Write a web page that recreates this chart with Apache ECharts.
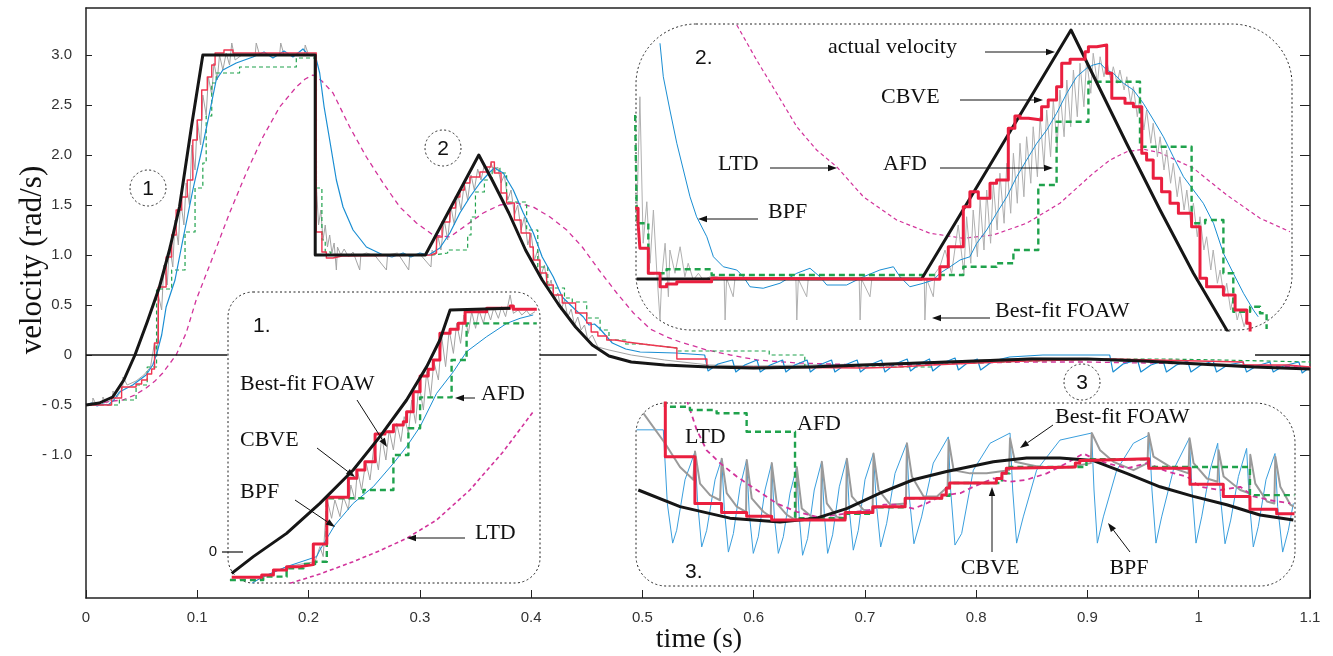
<!DOCTYPE html>
<html>
<head>
<meta charset="utf-8">
<script src="https://cdn.jsdelivr.net/npm/echarts@6/dist/echarts.min.js"></script>
<style>
html, body { margin: 0; padding: 0; background: #fff; }
#chart { width: 1333px; height: 656px; }
</style>
</head>
<body>
<div id="chart"></div>
<script>
// ---- main plot: time (s) / velocity (rad/s) ----
var yTicks = [-1, -0.5, 0, 0.5, 1, 1.5, 2, 2.5, 3];
var yTickText = { '3': '3.0', '2.5': '2.5', '2': '2.0', '1.5': '1.5', '1': '1.0', '0.5': '0.5', '0': '0', '-0.5': '- 0.5', '-1': '- 1.0' };
var zeroSegments = [[0, 0.127], [0.4077, 0.459], [1.0506, 1.1]];

var actualMain = [[0,-0.5],[0.012,-0.48],[0.024,-0.42],[0.034,-0.25],[0.044,0],[0.055,0.33],[0.066,0.68],[0.075,1.05],[0.084,1.48],[0.095,2.3],[0.105,3.0],[0.206,3.0],[0.206,1.0],[0.305,1.0],[0.353,2.0],[0.365,1.75],[0.38,1.42],[0.395,1.05],[0.41,0.75],[0.425,0.5],[0.44,0.28],[0.455,0.1],[0.47,-0.01],[0.49,-0.07],[0.52,-0.1],[0.56,-0.12],[0.6,-0.13],[0.65,-0.12],[0.7,-0.1],[0.75,-0.08],[0.8,-0.06],[0.85,-0.04],[0.9,-0.04],[0.95,-0.06],[1.0,-0.09],[1.05,-0.12],[1.1,-0.14]];

var cbveMain = [[0,-0.5],[0.023,-0.43],[0.032,-0.32],[0.045,-0.29],[0.05,-0.25],[0.055,-0.19],[0.059,-0.14],[0.0616,0.12],[0.065,0.68],[0.072,0.98],[0.077,1.2],[0.081,1.45],[0.086,1.58],[0.091,1.75],[0.096,2.15],[0.1,2.35],[0.104,2.65],[0.109,2.78],[0.113,2.9],[0.116,3.02],[0.124,3.05],[0.132,3.02],[0.207,1.23],[0.212,1.03],[0.216,0.97],[0.222,0.99],[0.23,1.0],[0.31,1.02],[0.315,1.18],[0.32,1.33],[0.327,1.47],[0.332,1.58],[0.336,1.65],[0.34,1.72],[0.345,1.78],[0.354,1.83],[0.36,1.88],[0.364,1.93],[0.367,1.82],[0.373,1.62],[0.378,1.52],[0.385,1.35],[0.391,1.22],[0.399,1.08],[0.402,0.95],[0.408,0.82],[0.414,0.7],[0.42,0.6],[0.428,0.52],[0.44,0.42],[0.45,0.32],[0.454,0.23],[0.46,0.19],[0.468,0.15],[0.476,0.13],[0.486,0.11],[0.5,0.09],[0.515,0.07],[0.531,-0.04],[0.558,-0.12],[0.58,-0.13],[0.7,-0.12],[0.73,-0.1],[0.76,-0.08],[0.8,-0.06],[0.845,-0.04],[0.92,-0.05],[0.96,-0.06],[1.0,-0.07],[1.04,-0.1],[1.08,-0.12],[1.1,-0.13]];

var afdMain = [[0,-0.5],[0.03,-0.45],[0.045,-0.3],[0.055,-0.12],[0.0634,0.66],[0.077,0.85],[0.089,1.23],[0.098,1.67],[0.105,1.92],[0.108,2.39],[0.113,2.72],[0.117,2.82],[0.138,2.88],[0.189,2.97],[0.207,1.67],[0.212,1.15],[0.215,1.03],[0.22,1.0],[0.312,1.02],[0.325,1.05],[0.343,1.2],[0.346,1.38],[0.35,1.63],[0.358,1.75],[0.365,1.87],[0.372,1.82],[0.378,1.53],[0.396,1.25],[0.406,0.88],[0.415,0.67],[0.43,0.57],[0.437,0.53],[0.45,0.37],[0.462,0.25],[0.47,0.15],[0.485,0.11],[0.5,0.09],[0.515,0.07],[0.531,0.04],[0.614,0.0],[0.646,-0.12],[0.7,-0.12],[0.76,-0.08],[0.8,-0.06],[0.85,-0.04],[0.92,-0.04],[0.97,-0.05],[1.02,-0.06],[1.06,-0.07],[1.1,-0.08]];

var bpfMain = [[0,-0.5],[0.005,-0.48],[0.01,-0.51],[0.015,-0.49],[0.02,-0.5],[0.025,-0.45],[0.03,-0.37],[0.042,-0.3],[0.054,-0.2],[0.06,-0.1],[0.064,0.03],[0.068,0.2],[0.072,0.48],[0.08,0.75],[0.087,1.15],[0.096,1.65],[0.104,2.05],[0.111,2.42],[0.117,2.75],[0.123,2.85],[0.135,2.92],[0.15,2.98],[0.16,3.03],[0.168,2.97],[0.178,3.04],[0.186,2.98],[0.195,3.06],[0.2,3.0],[0.206,3.0],[0.21,2.82],[0.214,2.48],[0.219,2.15],[0.225,1.75],[0.231,1.48],[0.24,1.25],[0.252,1.08],[0.267,1.0],[0.275,0.98],[0.285,1.02],[0.292,0.98],[0.3,1.02],[0.308,1.0],[0.318,1.07],[0.327,1.22],[0.336,1.42],[0.345,1.58],[0.354,1.72],[0.363,1.83],[0.367,1.87],[0.375,1.82],[0.384,1.65],[0.393,1.42],[0.402,1.22],[0.41,0.98],[0.42,0.78],[0.428,0.58],[0.44,0.45],[0.447,0.38],[0.452,0.3],[0.457,0.31],[0.462,0.26],[0.473,0.12],[0.485,0.06],[0.498,0.03],[0.53,0.02],[0.556,0.0],[0.559,-0.16],[0.568,-0.09],[0.581,-0.05],[0.584,-0.17],[0.592,-0.1],[0.603,-0.05],[0.606,-0.17],[0.615,-0.1],[0.626,-0.05],[0.629,-0.17],[0.637,-0.1],[0.648,-0.05],[0.651,-0.17],[0.659,-0.1],[0.67,-0.05],[0.673,-0.17],[0.682,-0.1],[0.693,-0.05],[0.696,-0.17],[0.704,-0.1],[0.715,-0.05],[0.718,-0.17],[0.727,-0.09],[0.738,-0.04],[0.741,-0.16],[0.749,-0.09],[0.758,-0.04],[0.761,-0.16],[0.77,-0.08],[0.781,-0.03],[0.784,-0.15],[0.792,-0.08],[0.801,-0.04],[0.804,-0.15],[0.815,-0.06],[0.83,-0.02],[0.86,0.0],[0.9,0.0],[0.92,0.0],[0.923,-0.17],[0.932,-0.09],[0.945,-0.05],[0.948,-0.17],[0.957,-0.1],[0.968,-0.06],[0.971,-0.17],[0.98,-0.1],[0.99,-0.06],[0.993,-0.17],[1.002,-0.1],[1.013,-0.06],[1.016,-0.17],[1.026,-0.1],[1.04,-0.07],[1.043,-0.17],[1.052,-0.11],[1.064,-0.07],[1.067,-0.17],[1.076,-0.11],[1.09,-0.07],[1.093,-0.18],[1.1,-0.12]];

var ltdMain = [[0,-0.5],[0.012,-0.48],[0.024,-0.46],[0.033,-0.45],[0.044,-0.4],[0.054,-0.33],[0.062,-0.26],[0.069,-0.18],[0.075,-0.09],[0.081,0.0],[0.09,0.22],[0.099,0.55],[0.114,0.98],[0.129,1.42],[0.144,1.82],[0.159,2.18],[0.174,2.48],[0.189,2.68],[0.197,2.76],[0.204,2.8],[0.212,2.74],[0.222,2.62],[0.237,2.28],[0.252,1.98],[0.267,1.72],[0.282,1.48],[0.297,1.32],[0.312,1.2],[0.327,1.18],[0.342,1.3],[0.357,1.42],[0.372,1.5],[0.387,1.52],[0.402,1.48],[0.417,1.38],[0.432,1.25],[0.446,1.08],[0.461,0.85],[0.477,0.62],[0.492,0.42],[0.507,0.26],[0.522,0.18],[0.534,0.13],[0.558,0.05],[0.579,0.0],[0.603,-0.05],[0.639,-0.08],[0.7,-0.1],[0.75,-0.1],[0.8,-0.08],[0.85,-0.07],[0.9,-0.07],[0.95,-0.08],[1.0,-0.09],[1.05,-0.11],[1.1,-0.12]];

var foawMain = [[0,-0.5],[0.006,-0.5],[0.0062,-0.43],[0.009,-0.49],[0.015,-0.5],[0.0152,-0.42],[0.018,-0.48],[0.024,-0.44],[0.0242,-0.36],[0.028,-0.42],[0.033,-0.33],[0.0332,-0.22],[0.037,-0.3],[0.045,-0.26],[0.052,-0.2],[0.058,-0.12],[0.0615,0.12],[0.064,0.0],[0.065,0.6],[0.068,0.45],[0.07,0.9],[0.073,0.7],[0.075,1.1],[0.078,0.88],[0.08,1.35],[0.083,1.1],[0.085,1.55],[0.088,1.3],[0.09,1.72],[0.093,1.5],[0.095,2.1],[0.098,1.85],[0.1,2.35],[0.103,2.1],[0.105,2.6],[0.108,2.4],[0.11,2.78],[0.113,2.6],[0.115,2.92],[0.118,2.75],[0.12,3.0],[0.123,2.85],[0.126,3.02],[0.129,2.9],[0.131,3.12],[0.134,2.95],[0.14,3.0],[0.152,3.0],[0.153,3.12],[0.156,3.0],[0.174,3.0],[0.175,3.12],[0.178,3.0],[0.196,3.0],[0.197,3.1],[0.2,3.0],[0.206,3.0],[0.207,1.7],[0.209,1.3],[0.211,1.45],[0.213,1.15],[0.215,1.3],[0.217,1.08],[0.219,1.2],[0.221,1.02],[0.223,1.12],[0.225,0.85],[0.226,1.08],[0.229,1.0],[0.232,1.06],[0.236,0.98],[0.24,1.03],[0.246,0.85],[0.247,1.0],[0.252,1.02],[0.26,0.99],[0.27,0.85],[0.271,1.0],[0.28,1.02],[0.29,0.85],[0.291,1.0],[0.3,1.01],[0.31,0.88],[0.311,1.05],[0.314,1.0],[0.316,1.2],[0.319,1.05],[0.322,1.35],[0.325,1.15],[0.328,1.48],[0.331,1.3],[0.334,1.62],[0.337,1.45],[0.34,1.72],[0.343,1.55],[0.346,1.8],[0.349,1.65],[0.352,1.86],[0.355,1.75],[0.358,1.9],[0.361,1.8],[0.364,1.92],[0.367,1.82],[0.37,1.88],[0.373,1.72],[0.376,1.8],[0.379,1.55],[0.382,1.65],[0.385,1.4],[0.388,1.5],[0.391,1.25],[0.394,1.38],[0.397,1.1],[0.4,1.22],[0.403,0.95],[0.406,1.05],[0.409,0.8],[0.412,0.9],[0.415,0.65],[0.418,0.75],[0.421,0.55],[0.424,0.62],[0.427,0.45],[0.43,0.55],[0.433,0.38],[0.436,0.46],[0.439,0.3],[0.442,0.38],[0.445,0.25],[0.448,0.3],[0.451,0.15],[0.455,0.2],[0.46,0.08],[0.47,0.05],[0.49,0.0],[0.52,-0.05],[0.56,-0.1],[0.6,-0.11],[0.65,-0.1],[0.7,-0.09],[0.75,-0.07],[0.8,-0.05],[0.85,-0.03],[0.9,-0.04],[0.95,-0.06],[1.0,-0.08],[1.05,-0.1],[1.1,-0.12]];

// ---- inset 1 (zoom of region 1) ----
var actualIn1 = [[0.0339,-0.267],[0.0411,-0.058],[0.0522,0.233],[0.0633,0.608],[0.0744,1.025],[0.0833,1.442],[0.0922,1.9],[0.0989,2.317],[0.1033,2.65],[0.1067,3.025],[0.1267,3.046]];
var cbveIn1 = [[0.0339,-0.317],[0.0439,-0.288],[0.0478,-0.225],[0.0522,-0.183],[0.0567,-0.158],[0.0611,0.1],[0.0656,0.683],[0.0728,0.921],[0.0756,1.025],[0.0783,1.129],[0.0817,1.475],[0.085,1.504],[0.0878,1.588],[0.0911,1.629],[0.0922,1.754],[0.0944,2.004],[0.0967,2.2],[0.0994,2.283],[0.1011,2.4],[0.1033,2.733],[0.1067,2.783],[0.1094,2.858],[0.1117,3.004],[0.1189,3.046],[0.1267,3.075],[0.1278,3.033],[0.1356,3.033]];
var afdIn1 = [[0.0333,-0.35],[0.0444,-0.308],[0.0522,-0.204],[0.0578,-0.15],[0.0617,-0.121],[0.0656,0.671],[0.0778,0.775],[0.0878,1.213],[0.0928,1.546],[0.0967,1.933],[0.1072,2.4],[0.1122,2.858],[0.1356,2.858]];
var bpfIn1 = [[0.0406,-0.392],[0.0444,-0.308],[0.0522,-0.183],[0.0622,-0.058],[0.0633,0.025],[0.0683,0.338],[0.0744,0.608],[0.0811,0.817],[0.0878,1.108],[0.0922,1.317],[0.0967,1.567],[0.1022,1.983],[0.1078,2.254],[0.1122,2.504],[0.1189,2.692],[0.1256,2.858],[0.13,2.921],[0.1344,2.963]];
var ltdIn1 = [[0.0533,-0.392],[0.0633,-0.275],[0.0744,-0.121],[0.0833,0.017],[0.0922,0.171],[0.1022,0.4],[0.1133,0.775],[0.1244,1.254],[0.1344,1.754]];
var foawIn1 = [[0.0411,-0.371],[0.0522,-0.183],[0.0617,-0.121],[0.0633,0.067],[0.0644,-0.058],[0.0656,0.671],[0.0672,0.421],[0.0683,0.65],[0.07,0.442],[0.0711,0.692],[0.0728,0.525],[0.0736,0.838],[0.075,0.65],[0.0758,1.025],[0.0772,0.775],[0.0786,1.129],[0.08,0.9],[0.0813,1.317],[0.0828,1.025],[0.0839,1.442],[0.0853,1.15],[0.0864,1.525],[0.0878,1.275],[0.0889,1.608],[0.0903,1.379],[0.0914,1.692],[0.0928,1.483],[0.0939,1.9],[0.0952,1.608],[0.0963,2.108],[0.0978,1.775],[0.0989,2.254],[0.1002,1.942],[0.1013,2.379],[0.1028,2.15],[0.1039,2.692],[0.1052,2.317],[0.1064,2.775],[0.1078,2.483],[0.1089,2.858],[0.1102,2.608],[0.1113,2.963],[0.1128,2.733],[0.1139,3.004],[0.1152,2.796],[0.1163,3.025],[0.1178,2.858],[0.1189,3.046],[0.1202,2.9],[0.1213,3.058],[0.1228,2.921],[0.1239,3.067],[0.1252,2.942],[0.1267,3.213],[0.1278,2.983],[0.1294,3.025],[0.1306,2.963],[0.1322,3.017],[0.1333,2.963],[0.135,3.004]];

// ---- inset 2 (zoom of region 2) ----
var actualIn2 = [[0.21,1.0],[0.305,1.0],[0.3548,1.996],[0.3733,1.543],[0.3845,1.276],[0.3956,1.023],[0.4067,0.796],[0.412,0.72]];
var cbveIn2 = [[0.2095,1.283],[0.2105,1.223],[0.2111,1.123],[0.2139,1.023],[0.2178,0.969],[0.22,0.98],[0.2234,0.989],[0.235,1.003],[0.2367,0.999],[0.3111,1.049],[0.3139,1.129],[0.3189,1.289],[0.3211,1.349],[0.3239,1.323],[0.3278,1.383],[0.33,1.396],[0.3339,1.603],[0.3361,1.652],[0.3378,1.643],[0.3406,1.636],[0.345,1.689],[0.3472,1.716],[0.35,1.769],[0.3517,1.863],[0.3545,1.879],[0.3595,1.909],[0.3606,1.929],[0.3634,1.936],[0.3667,1.823],[0.3684,1.723],[0.3728,1.703],[0.3756,1.689],[0.3784,1.503],[0.38,1.476],[0.3822,1.403],[0.385,1.349],[0.3878,1.303],[0.3906,1.263],[0.395,1.209],[0.3978,1.003],[0.4,0.969],[0.4056,0.936],[0.4095,0.876],[0.4134,0.823],[0.4145,0.78]];
var afdIn2 = [[0.2095,1.656],[0.2101,1.223],[0.2139,1.023],[0.22,1.039],[0.235,1.016],[0.3189,1.049],[0.33,1.063],[0.3356,1.116],[0.3439,1.376],[0.35,1.629],[0.3606,1.789],[0.3778,1.529],[0.395,1.223],[0.3995,1.236],[0.4056,1.023],[0.4089,0.869],[0.4145,0.889],[0.4178,0.863],[0.42,0.8]];
var bpfIn2 = [[0.2178,1.943],[0.2189,1.809],[0.2211,1.676],[0.2234,1.543],[0.2256,1.436],[0.2278,1.329],[0.23,1.249],[0.2334,1.169],[0.2356,1.089],[0.2389,1.049],[0.2434,1.036],[0.2456,1.009],[0.2478,0.969],[0.2522,0.963],[0.2578,0.983],[0.2634,1.023],[0.2678,1.043],[0.2711,1.009],[0.2734,0.976],[0.28,0.976],[0.2856,1.009],[0.2911,1.036],[0.2956,1.049],[0.2978,1.009],[0.3011,0.969],[0.3056,0.983],[0.3089,0.996],[0.3111,1.023],[0.3145,1.049],[0.3178,1.076],[0.3211,1.089],[0.3234,1.143],[0.3267,1.196],[0.33,1.263],[0.3334,1.329],[0.3367,1.409],[0.34,1.476],[0.3434,1.543],[0.3467,1.596],[0.35,1.663],[0.3534,1.743],[0.3567,1.809],[0.36,1.843],[0.3622,1.856],[0.3645,1.863],[0.3667,1.836],[0.3689,1.823],[0.3723,1.783],[0.3756,1.756],[0.3789,1.703],[0.3823,1.636],[0.3856,1.569],[0.3889,1.489],[0.3923,1.409],[0.3956,1.356],[0.3989,1.303],[0.4023,1.223],[0.4056,1.103],[0.4089,1.023],[0.4123,0.943],[0.4156,0.876],[0.4172,0.849]];
var ltdIn2 = [[0.2434,2.016],[0.25,1.876],[0.2567,1.743],[0.2634,1.609],[0.27,1.516],[0.2767,1.449],[0.2856,1.329],[0.2967,1.236],[0.3078,1.183],[0.3189,1.163],[0.3289,1.176],[0.34,1.223],[0.3511,1.303],[0.3622,1.423],[0.3678,1.476],[0.3734,1.509],[0.3789,1.519],[0.3845,1.505],[0.3956,1.443],[0.4067,1.336],[0.4178,1.243],[0.4278,1.189]];
var foawIn2 = [[0.21,1.223],[0.2111,1.729],[0.2122,1.143],[0.2134,1.309],[0.2145,1.063],[0.2156,1.276],[0.2167,1.036],[0.2178,0.836],[0.2184,1.009],[0.2195,1.143],[0.2206,0.929],[0.2211,1.116],[0.2228,1.023],[0.2245,1.129],[0.2261,1.009],[0.2272,1.063],[0.2289,0.996],[0.2306,1.023],[0.2322,0.996],[0.2345,1.009],[0.2367,1.009],[0.2392,0.999],[0.2395,0.836],[0.24,1.003],[0.2422,0.929],[0.2428,1.003],[0.2631,0.999],[0.2634,0.836],[0.2639,0.999],[0.2667,0.929],[0.2672,0.999],[0.2842,0.999],[0.2845,0.836],[0.285,0.999],[0.2878,0.929],[0.2884,0.999],[0.3059,0.999],[0.3061,0.836],[0.3067,0.999],[0.3089,0.929],[0.3095,1.023],[0.3111,1.049],[0.3128,1.116],[0.315,1.023],[0.3172,1.216],[0.3191,1.023],[0.32,1.249],[0.3214,1.063],[0.3222,1.276],[0.3236,1.089],[0.3245,1.316],[0.3258,1.116],[0.3267,1.356],[0.328,1.143],[0.3289,1.383],[0.3302,1.196],[0.3311,1.423],[0.3325,1.223],[0.3334,1.463],[0.3347,1.263],[0.3356,1.503],[0.3369,1.303],[0.3378,1.543],[0.3391,1.329],[0.34,1.569],[0.3414,1.383],[0.3422,1.609],[0.3436,1.409],[0.3445,1.649],[0.3458,1.449],[0.3467,1.676],[0.348,1.489],[0.3489,1.716],[0.3502,1.529],[0.3511,1.756],[0.3525,1.569],[0.3534,1.796],[0.3547,1.609],[0.3556,1.836],[0.3569,1.649],[0.3578,1.863],[0.3591,1.689],[0.36,1.876],[0.3614,1.743],[0.3622,1.903],[0.3636,1.783],[0.3645,1.889],[0.3658,1.809],[0.3667,1.876],[0.368,1.796],[0.3689,1.849],[0.3702,1.783],[0.3711,1.836],[0.3725,1.756],[0.3734,1.809],[0.3747,1.703],[0.3756,1.769],[0.3769,1.649],[0.3778,1.729],[0.3791,1.596],[0.38,1.676],[0.3814,1.543],[0.3822,1.623],[0.3836,1.489],[0.3845,1.569],[0.3858,1.436],[0.3867,1.516],[0.388,1.383],[0.3889,1.463],[0.3902,1.329],[0.3911,1.409],[0.3925,1.276],[0.3934,1.356],[0.3947,1.223],[0.3956,1.303],[0.3969,1.169],[0.3978,1.249],[0.3991,1.116],[0.4,1.169],[0.4014,1.036],[0.4022,1.116],[0.4036,0.983],[0.4045,1.036],[0.4058,0.929],[0.4067,0.983],[0.408,0.876],[0.4089,0.929],[0.4102,0.836],[0.4111,0.876],[0.4125,0.809],[0.4134,0.849]];

// ---- inset 3 (zoom of region 3) ----
var actualIn3 = [[0.4961,-0.085],[0.5336,-0.111],[0.5785,-0.129],[0.6235,-0.135],[0.6564,-0.129],[0.6834,-0.114],[0.7134,-0.09],[0.7433,-0.069],[0.7733,-0.056],[0.8153,-0.041],[0.8452,-0.035],[0.8752,-0.035],[0.9052,-0.039],[0.9352,-0.059],[0.9651,-0.08],[0.9951,-0.095],[1.0251,-0.108],[1.055,-0.124],[1.085,-0.132]];
var cbveIn3 = [[0.494,0.08],[0.5204,-0.033],[0.547,-0.106],[0.571,-0.12],[0.5935,-0.126],[0.616,-0.132],[0.682,-0.12],[0.707,-0.111],[0.736,-0.098],[0.769,-0.093],[0.773,-0.082],[0.776,-0.074],[0.818,-0.067],[0.823,-0.059],[0.827,-0.051],[0.83,-0.049],[0.889,-0.043],[0.893,-0.039],[0.899,-0.036],[0.955,-0.051],[0.992,-0.076],[1.022,-0.095],[1.046,-0.115],[1.07,-0.122],[1.086,-0.122]];
var afdIn3 = [[0.494,0.07],[0.5201,0.045],[0.5425,0.04],[0.5665,0.035],[0.5935,0.006],[0.637,-0.129],[0.682,-0.122],[0.707,-0.112],[0.736,-0.098],[0.769,-0.094],[0.776,-0.074],[0.823,-0.059],[0.83,-0.049],[0.899,-0.037],[0.9546,-0.049],[1.046,-0.093],[1.086,-0.093]];
var bpfIn3 = [[0.4946,0.009],[0.5186,0.009],[0.5222,-0.106],[0.527,-0.168],[0.5306,-0.148],[0.5381,-0.069],[0.5471,-0.025],[0.5495,-0.106],[0.5531,-0.174],[0.5576,-0.148],[0.5651,-0.069],[0.5711,-0.036],[0.5735,-0.116],[0.5771,-0.182],[0.5816,-0.153],[0.5876,-0.08],[0.5935,-0.038],[0.5959,-0.122],[0.5995,-0.184],[0.604,-0.158],[0.61,-0.085],[0.616,-0.043],[0.6184,-0.127],[0.622,-0.184],[0.6265,-0.158],[0.6325,-0.09],[0.6385,-0.049],[0.6408,-0.127],[0.6438,-0.187],[0.6483,-0.161],[0.6543,-0.085],[0.6609,-0.041],[0.6633,-0.122],[0.6663,-0.184],[0.6708,-0.155],[0.6768,-0.08],[0.6834,-0.036],[0.6858,-0.116],[0.6894,-0.179],[0.6939,-0.148],[0.6999,-0.069],[0.7074,-0.028],[0.7104,-0.111],[0.714,-0.174],[0.7194,-0.137],[0.7269,-0.059],[0.7374,-0.012],[0.7397,-0.095],[0.7439,-0.169],[0.7508,-0.127],[0.7613,-0.043],[0.7748,-0.002],[0.7769,-0.085],[0.7808,-0.171],[0.7868,-0.153],[0.7973,-0.054],[0.8123,-0.012],[0.8303,0.004],[0.8327,-0.085],[0.8362,-0.168],[0.8422,-0.127],[0.8542,-0.054],[0.8752,-0.007],[0.9037,0.004],[0.9058,-0.085],[0.9088,-0.168],[0.9142,-0.127],[0.9262,-0.054],[0.9412,-0.012],[0.9555,0.001],[0.9579,-0.085],[0.9615,-0.168],[0.9666,-0.127],[0.9771,-0.054],[0.9915,-0.004],[0.9939,-0.085],[0.9975,-0.168],[1.0026,-0.127],[1.0101,-0.054],[1.017,-0.012],[1.0194,-0.095],[1.0236,-0.169],[1.0287,-0.132],[1.0356,-0.064],[1.043,-0.02],[1.0454,-0.101],[1.049,-0.174],[1.0535,-0.142],[1.0604,-0.069],[1.0685,-0.028],[1.0709,-0.111],[1.0754,-0.182],[1.0805,-0.148],[1.085,-0.106]];
var ltdIn3 = [[0.5396,0.056],[0.5486,0.009],[0.5576,-0.023],[0.5696,-0.043],[0.5846,-0.064],[0.6026,-0.085],[0.6206,-0.106],[0.6386,-0.119],[0.6566,-0.127],[0.6746,-0.124],[0.6926,-0.119],[0.7046,-0.116],[0.7166,-0.108],[0.7286,-0.108],[0.7436,-0.114],[0.7526,-0.108],[0.7706,-0.093],[0.7856,-0.09],[0.7973,-0.08],[0.8153,-0.067],[0.8303,-0.072],[0.8453,-0.069],[0.8633,-0.059],[0.8813,-0.043],[0.8963,-0.028],[0.9053,-0.036],[0.9173,-0.043],[0.9353,-0.051],[0.9533,-0.043],[0.9713,-0.056],[0.9893,-0.064],[1.0013,-0.08],[1.0193,-0.085],[1.0373,-0.08],[1.0493,-0.095],[1.0643,-0.101],[1.0823,-0.106]];
var foawIn3 = [[0.5006,0.035],[0.5201,-0.012],[0.5336,-0.049],[0.5456,-0.069],[0.5471,-0.025],[0.5516,-0.075],[0.5606,-0.093],[0.5696,-0.101],[0.5711,-0.036],[0.5756,-0.09],[0.5846,-0.111],[0.593,-0.119],[0.5936,-0.038],[0.5981,-0.098],[0.6086,-0.119],[0.6152,-0.127],[0.6161,-0.043],[0.6206,-0.106],[0.6296,-0.124],[0.6377,-0.132],[0.6386,-0.049],[0.6431,-0.114],[0.6521,-0.127],[0.6602,-0.132],[0.6611,-0.041],[0.6656,-0.106],[0.6746,-0.127],[0.6827,-0.129],[0.6836,-0.036],[0.6881,-0.095],[0.6986,-0.116],[0.7067,-0.119],[0.7076,-0.028],[0.7121,-0.085],[0.7226,-0.108],[0.7367,-0.106],[0.7376,-0.012],[0.7421,-0.064],[0.7526,-0.095],[0.7646,-0.095],[0.7742,-0.08],[0.7751,-0.007],[0.7796,-0.054],[0.7943,-0.059],[0.8093,-0.059],[0.8294,-0.054],[0.8303,-0.004],[0.8348,-0.041],[0.8483,-0.046],[0.8633,-0.051],[0.8843,-0.049],[0.9029,-0.043],[0.9038,0.004],[0.9113,-0.023],[0.9233,-0.041],[0.9413,-0.054],[0.9539,-0.043],[0.9548,0.004],[0.9593,-0.033],[0.9743,-0.049],[0.9908,-0.059],[0.9917,-0.004],[0.9953,-0.043],[1.0073,-0.067],[1.0169,-0.072],[1.0178,-0.023],[1.0223,-0.064],[1.0373,-0.085],[1.0454,-0.09],[1.0463,-0.03],[1.0508,-0.075],[1.0613,-0.103],[1.0679,-0.106],[1.0688,-0.033],[1.0733,-0.08],[1.0823,-0.108],[1.0853,-0.111]];

var SERIF = '"Liberation Serif", "Times New Roman", serif';
var SANS = '"Liberation Sans", Arial, Helvetica, sans-serif';
var C = { black: '#161616', red: '#ea1f3f', green: '#1fa24c', blue: '#1a8ed3', magenta: '#d2339b', gray: '#a3a3a3' };

function ln(data, ax, color, width, dash, step, z) {
  return {
    type: 'line', xAxisIndex: ax, yAxisIndex: ax, data: data,
    showSymbol: false, symbol: 'none', silent: true, animation: false,
    step: step || false, z: z, clip: true,
    lineStyle: { color: color, width: width, type: dash || 'solid', cap: 'butt', join: 'round' }
  };
}

function insetAxes(i, xmin, xmax, ymin, ymax) {
  return {
    x: { gridIndex: i, type: 'value', min: xmin, max: xmax, show: false },
    y: { gridIndex: i, type: 'value', min: ymin, max: ymax, show: false }
  };
}

var ax1 = insetAxes(1, 0.032667, 0.136667, -0.3875, 3.25);
var ax2 = insetAxes(2, 0.2098, 0.428467, 0.796, 2.02);
var ax3 = insetAxes(3, 0.49404, 1.08649, -0.235, 0.05094);

var series = [
  // main
  ln(foawMain, 0, C.gray, 1, 'solid', false, 2),
  ln(ltdMain, 0, C.magenta, 1.3, [5, 4], false, 2),
  ln(afdMain, 0, C.green, 1.2, [4, 3], 'end', 2),
  ln(bpfMain, 0, C.blue, 1.2, 'solid', false, 2),
  ln(cbveMain, 0, '#ef3550', 1.4, 'solid', 'end', 2),
  ln(actualMain, 0, C.black, 3, 'solid', false, 2),
  // inset 1
  ln(ltdIn1, 2, C.magenta, 1.6, [4, 3], false, 6),
  ln(foawIn1, 2, C.gray, 1, 'solid', false, 6),
  ln(bpfIn1, 2, C.blue, 1, 'solid', false, 6),
  ln(afdIn1, 2, C.green, 2.4, [6, 4], 'end', 6),
  ln(cbveIn1, 2, C.red, 3, 'solid', 'end', 6),
  ln(actualIn1, 2, C.black, 3, 'solid', false, 6),
  // inset 2
  ln(ltdIn2, 3, C.magenta, 1.2, [4, 3], false, 6),
  ln(foawIn2, 3, '#b0b0b0', 1, 'solid', false, 6),
  ln(bpfIn2, 3, C.blue, 1, 'solid', false, 6),
  ln(afdIn2, 3, C.green, 2.4, [6, 4], 'end', 6),
  ln(actualIn2, 3, C.black, 3, 'solid', false, 6),
  ln(cbveIn2, 3, C.red, 3, 'solid', 'end', 6),
  // inset 3
  ln(bpfIn3, 4, '#3a9fde', 1, 'solid', false, 6),
  ln(foawIn3, 4, '#9a9a9a', 2, 'solid', false, 6),
  ln(ltdIn3, 4, C.magenta, 1.8, [5, 4], false, 6),
  ln(afdIn3, 4, C.green, 2.4, [6, 4], 'end', 6),
  ln(actualIn3, 4, C.black, 3, 'solid', false, 6),
  ln(cbveIn3, 4, C.red, 3, 'solid', 'end', 6)
];

// zero reference segments on the main plot
series[5].markLine = {
  silent: true, symbol: 'none', animation: false,
  label: { show: false },
  lineStyle: { color: C.black, width: 1.5, type: 'solid' },
  data: zeroSegments.map(function (s) { return [{ coord: [s[0], 0] }, { coord: [s[1], 0] }]; })
};

// annotations
var g = [];
function box(x, y, w, h, r) {
  g.push({ type: 'rect', silent: true, z: 4, shape: { x: x, y: y, width: w, height: h, r: r },
    style: { fill: '#fff', stroke: '#222', lineWidth: 1, lineDash: [2, 2.5] } });
}
function txt(x, y, s, font, align, rot) {
  g.push({ type: 'text', silent: true, z: 20, x: x, y: y, rotation: rot || 0,
    style: { text: s, font: font, fill: '#111', align: align || 'left', textAlign: align || 'left', verticalAlign: 'middle', textVerticalAlign: 'middle' } });
}
function arrow(x1, y1, x2, y2) {
  var a = Math.atan2(y2 - y1, x2 - x1), L = 9, W = 3.2;
  var bx = x2 - L * Math.cos(a), by = y2 - L * Math.sin(a);
  g.push({ type: 'line', silent: true, z: 20, shape: { x1: x1, y1: y1, x2: bx, y2: by }, style: { stroke: '#111', lineWidth: 1 } });
  g.push({ type: 'polygon', silent: true, z: 20,
    shape: { points: [[x2, y2], [bx - W * Math.sin(a), by + W * Math.cos(a)], [bx + W * Math.sin(a), by - W * Math.cos(a)]] },
    style: { fill: '#111' } });
}
function circled(cx, cy, s) {
  g.push({ type: 'circle', silent: true, z: 20, shape: { cx: cx, cy: cy, r: 18 },
    style: { fill: 'none', stroke: '#222', lineWidth: 1, lineDash: [2, 2.5] } });
  txt(cx, cy + 1, s, '21px ' + SANS, 'center');
}

box(228, 292, 312, 291, 25);
box(636, 24, 656, 306, [60, 60, 55, 55]);
box(636, 403, 659, 183, [30, 40, 35, 30]);

circled(148, 188, '1');
circled(443, 148, '2');
circled(1082, 382, '3');

// axis titles
txt(33, 260, 'velocity (rad/s)', '31px ' + SERIF, 'center', Math.PI / 2);
txt(699, 640, 'time (s)', '28px ' + SERIF, 'center');

var SF = '22px ' + SERIF, NF = '21px ' + SANS;
// inset 1
txt(253, 326, '1.', NF);
txt(240, 384, 'Best-fit FOAW', SF);
txt(240, 440, 'CBVE', SF);
txt(240, 492, 'BPF', SF);
txt(481, 394, 'AFD', SF);
txt(475, 533, 'LTD', SF);
arrow(357, 400, 387, 447);
arrow(317, 448, 355, 477);
arrow(295, 500, 335, 527);
arrow(475, 398, 455, 398);
arrow(465, 538, 407, 538);
txt(213, 552, '0', '15px ' + SANS, 'center');
g.push({ type: 'line', silent: true, z: 20, shape: { x1: 222, y1: 552, x2: 243, y2: 552 }, style: { stroke: '#111', lineWidth: 1.2 } });
// inset 2
txt(695, 58, '2.', NF);
txt(828, 47, 'actual velocity', SF);
arrow(985, 52, 1055, 52);
txt(881, 97, 'CBVE', SF);
arrow(960, 100, 1043, 100);
txt(718, 164, 'LTD', SF);
arrow(770, 168, 837, 168);
txt(883, 164, 'AFD', SF);
arrow(940, 168, 1053, 168);
txt(768, 212, 'BPF', SF);
arrow(758, 219, 698, 219);
txt(995, 311, 'Best-fit FOAW', SF);
arrow(990, 318, 932, 318);
// inset 3
txt(685, 572, '3.', NF);
txt(685, 437, 'LTD', SF);
txt(797, 424, 'AFD', SF);
txt(1055, 417, 'Best-fit FOAW', SF);
arrow(1053, 425, 1020, 448);
txt(990, 568, 'CBVE', SF, 'center');
arrow(992, 552, 992, 487);
txt(1129, 568, 'BPF', SF, 'center');
arrow(1130, 552, 1108, 523);

var axisLineStyle = { color: '#222', width: 1.5 };
var option = {
  backgroundColor: '#fff',
  animation: false,
  grid: [
    { left: 86, top: 8, width: 1224, height: 590, containLabel: false },
    { left: 228, top: 292, width: 312, height: 291 },
    { left: 636, top: 24, width: 656, height: 306 },
    { left: 636, top: 403, width: 659, height: 183 }
  ],
  xAxis: [
    { gridIndex: 0, type: 'value', min: 0, max: 1.1, interval: 0.1,
      axisLine: { onZero: false, lineStyle: axisLineStyle },
      axisTick: { inside: true, length: 8, lineStyle: { color: '#222' } },
      axisLabel: { margin: 12, fontSize: 15, fontFamily: SANS, color: '#333',
        formatter: function (v) { var r = Math.round(v * 10) / 10; return r === 0 ? '0' : (r === 1 ? '1' : r.toFixed(1)); } },
      splitLine: { show: false } },
    { gridIndex: 0, type: 'value', min: 0, max: 1.1, position: 'top',
      axisLine: { onZero: false, lineStyle: axisLineStyle }, axisTick: { show: false }, axisLabel: { show: false }, splitLine: { show: false } },
    ax1.x, ax2.x, ax3.x
  ],
  yAxis: [
    { gridIndex: 0, type: 'value', min: -2.43, max: 3.47,
      axisLine: { show: true, onZero: false, lineStyle: axisLineStyle },
      axisTick: { inside: true, length: 6, customValues: yTicks, lineStyle: { color: '#222' } },
      axisLabel: { customValues: yTicks, margin: 14, fontSize: 15, fontFamily: SANS, color: '#333',
        formatter: function (v) { return yTickText[String(Math.round(v * 10) / 10)] || ''; } },
      splitLine: { show: false } },
    { gridIndex: 0, type: 'value', min: -2.43, max: 3.47, position: 'right',
      axisLine: { show: true, onZero: false, lineStyle: axisLineStyle },
      axisTick: { inside: true, length: 10, customValues: yTicks, lineStyle: { color: '#222' } },
      axisLabel: { show: false }, splitLine: { show: false } },
    ax1.y, ax2.y, ax3.y
  ],
  graphic: { elements: g },
  series: series
};

var chart = echarts.init(document.getElementById('chart'), null, { renderer: 'canvas' });
chart.setOption(option);
</script>
</body>
</html>
